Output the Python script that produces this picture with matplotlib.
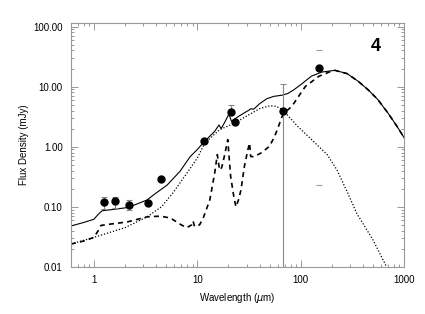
import numpy as np
import matplotlib
matplotlib.use('Agg')
import matplotlib.pyplot as plt
from matplotlib.ticker import LogLocator, FormatStrFormatter, NullFormatter

plt.rcParams['font.family'] = ['Liberation Sans', 'DejaVu Sans']

# photometry (um, mJy)
obs_wave = [1.24, 1.59, 2.18, 3.36, 4.5, 11.6, 21.2, 23.0, 67.0]
obs_flux = [0.12, 0.123, 0.108, 0.115, 0.296, 1.26, 3.79, 2.6, 3.88]
obs_err_lo = [0.027, 0.027, 0.021, 0.0, 0.0, 0.0, 0.0, 0.0, 3.8799]
obs_err_hi = [0.023, 0.023, 0.020, 0.0, 0.0, 0.0, 1.08, 0.0, 7.2]

# 160 um point, only the caps are visible
far_wave = [151.0]
far_flux = [20.5]
far_cap_lo = [0.23]
far_cap_hi = [40.0]

# total model (solid)
tot_wave = [0.6, 0.8, 1.0, 1.1, 1.2, 1.5, 2.0, 2.26, 3.26, 4.0, 5.1, 6.8, 8.5, 10, 11.6,
            14.7, 16.2, 17.0, 18.5, 20.2, 21.4, 25, 28, 31.8, 33, 35, 40, 47, 55,
            65.6, 75, 86, 100, 127, 160, 214, 280, 359, 450, 556, 700, 850, 1000]
tot_flux = [0.048, 0.055, 0.062, 0.075, 0.086, 0.09, 0.096, 0.101, 0.13, 0.17, 0.23, 0.39,
            0.68, 0.9, 1.2, 1.8, 2.3, 2.0, 2.6, 3.5, 2.64, 3.2, 3.6, 4.1, 4.3, 4.2, 5.2,
            6.3, 6.9, 7.2, 7.7, 8.9, 10.8, 15.0, 17.5, 18.7, 16.5, 12.3, 8.8, 6.1, 3.6,
            2.2, 1.41]

# stellar / warm component (dotted)
dot_wave = [0.6, 1.0, 2.0, 3.26, 4.5, 5.8, 7.9, 10, 11.8, 16.4, 23, 29.6, 40, 50,
            58, 67, 93, 130, 180, 224, 280, 349, 500, 676, 760]
dot_flux = [0.024, 0.031, 0.045, 0.068, 0.1, 0.17, 0.36, 0.65, 1.15, 1.92, 2.48, 3.2,
            4.3, 4.8, 4.7, 4.1, 2.2, 1.27, 0.74, 0.41, 0.18, 0.077, 0.028, 0.01, 0.0065]

# dust component (dashed)
dsh_wave = [0.6, 0.8, 1.0, 1.1, 1.17, 1.5, 2.1, 3.26, 4.4, 5.5, 7.0, 7.9, 8.8, 9.1, 9.4,
            10.5, 11.4, 13.2, 14.7, 15.6, 16.4, 17.2, 18.2, 19.7, 20.3, 21.0, 22.5, 23.6,
            25, 26.4, 28.5, 30.8, 32, 32.8, 35, 41, 49.6, 55, 59.3, 66, 70, 82, 100, 111,
            150, 196, 214, 280, 359, 450, 556, 700, 850, 1000]
dsh_flux = [0.024, 0.027, 0.031, 0.04, 0.049, 0.052, 0.056, 0.068, 0.07, 0.065, 0.05,
            0.045, 0.05, 0.058, 0.047, 0.05, 0.065, 0.13, 0.36, 0.74, 0.41, 0.45, 0.68,
            1.31, 0.66, 0.32, 0.15, 0.10, 0.13, 0.19, 0.47, 0.89, 1.15, 0.69, 0.68, 0.78,
            1.01, 1.4, 1.92, 3.2, 3.7, 4.7, 7.8, 10.1, 14.9, 18.0, 18.7, 16.5, 12.3, 8.8,
            6.1, 3.6, 2.2, 1.41]

fig = plt.figure(figsize=(4.25, 3.14), dpi=100)
ax = fig.add_axes([0.167, 0.150, 0.784, 0.777])

ax.plot(tot_wave, tot_flux, color='black', lw=0.8)
ax.plot(dot_wave, dot_flux, color='black', lw=0.9, linestyle=(0, (1, 1.5)))
ax.plot(dsh_wave, dsh_flux, color='black', lw=1.2, linestyle=(0, (3, 2.5)))

ax.errorbar(obs_wave, obs_flux, yerr=[obs_err_lo, obs_err_hi], fmt='o', color='black',
            markersize=5, ecolor='#888888', elinewidth=0.8, capsize=2, capthick=0.8,
            zorder=5)
ax.plot(far_wave, far_flux, 'o', color='black', markersize=5, zorder=5)
ax.plot(far_wave * 2, far_cap_lo + far_cap_hi, '_', color='#999999', markersize=4,
        markeredgewidth=0.8)

ax.text(0.93, 0.87, '4', transform=ax.transAxes, fontsize=13, fontweight='bold',
        ha='right', va='bottom')

ax.set_xscale('log')
ax.set_yscale('log')
ax.set_xlim(0.6, 1000)
ax.set_ylim(0.01, 115)

ax.xaxis.set_major_formatter(FormatStrFormatter('%g'))
ax.xaxis.set_minor_formatter(NullFormatter())
ax.yaxis.set_major_locator(LogLocator(base=10, numticks=10))
ax.yaxis.set_major_formatter(FormatStrFormatter('%.2f'))
ax.yaxis.set_minor_formatter(NullFormatter())

ax.tick_params(which='both', direction='in', top=True, right=True, colors='#888888',
               labelcolor='black', labelsize=7, width=0.6)
ax.tick_params(which='major', length=5, pad=6)
ax.tick_params(which='minor', length=2.5)
for s in ax.spines.values():
    s.set_color('#999999')
    s.set_linewidth(0.8)

ax.set_xlabel(r'Wavelength ($\mu$m)', fontsize=7, labelpad=4)
ax.set_ylabel('Flux Density (mJy)', fontsize=7, labelpad=3)

fig.savefig('out.png', dpi=100)
